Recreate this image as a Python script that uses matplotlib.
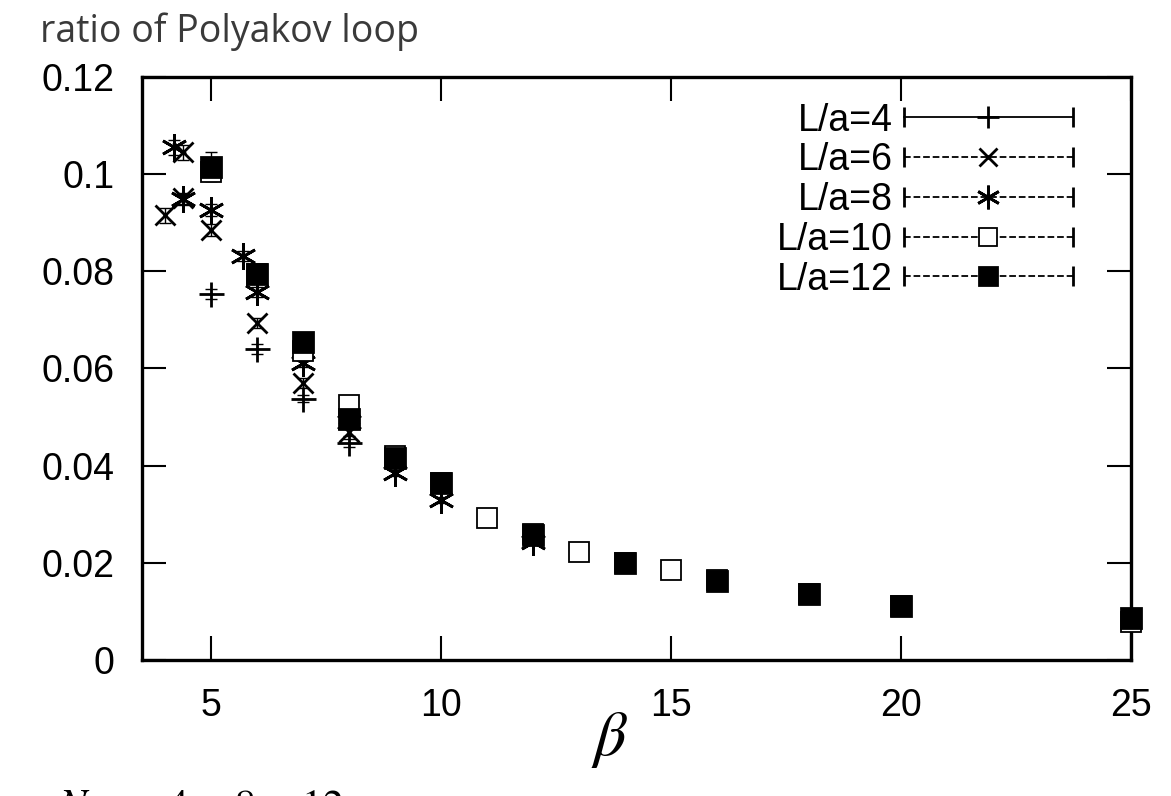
import matplotlib
matplotlib.use('Agg')
import matplotlib.pyplot as plt
from matplotlib.lines import Line2D
from matplotlib.legend_handler import HandlerBase
from matplotlib.ticker import FuncFormatter

# ---------------- data ----------------
beta_4 = [5, 6, 7, 8]
ratio_4 = [0.0753, 0.0640, 0.0538, 0.0447]
err_4 = [0.0010, 0.0010, 0.0008, 0.0008]

beta_6 = [4.0, 4.4, 4.4, 5, 6, 7, 8]
ratio_6 = [0.0915, 0.1045, 0.0950, 0.0885, 0.0693, 0.0570, 0.0470]
err_6 = [0.0015, 0.0015, 0.0012, 0.0012, 0.0010, 0.0010, 0.0008]

beta_8 = [4.2, 4.4, 5, 5.7, 6, 7, 8, 9, 10, 12]
ratio_8 = [0.1055, 0.0948, 0.0926, 0.0832, 0.0757, 0.0612, 0.0490, 0.0385, 0.0330, 0.0242]
err_8 = [0.0015, 0.0012, 0.0012, 0.0010, 0.0010, 0.0008, 0.0008, 0.0006, 0.0006, 0.0005]

beta_10 = [5, 6, 7, 8, 9, 10, 11, 12, 13, 14, 15, 16, 18, 20, 25]
ratio_10 = [0.1005, 0.0795, 0.0635, 0.0525, 0.0420, 0.0365, 0.0292, 0.0260, 0.0222,
            0.0200, 0.0185, 0.0165, 0.0135, 0.0112, 0.0078]
err_10 = [0.0020, 0.0012, 0.0010, 0.0008, 0.0008, 0.0006, 0.0006, 0.0005, 0.0005,
          0.0005, 0.0004, 0.0004, 0.0004, 0.0003, 0.0003]

beta_12 = [5, 6, 7, 8, 9, 10, 12, 14, 16, 18, 20, 25]
ratio_12 = [0.1015, 0.0795, 0.0655, 0.0495, 0.0415, 0.0365, 0.0258, 0.0200, 0.0163,
            0.0135, 0.0112, 0.0087]
err_12 = [0.0030, 0.0012, 0.0010, 0.0008, 0.0008, 0.0006, 0.0005, 0.0005, 0.0004,
          0.0004, 0.0003, 0.0003]

labels = ['L/a=4', 'L/a=6', 'L/a=8', 'L/a=10', 'L/a=12']
yticks = [0, 0.02, 0.04, 0.06, 0.08, 0.1, 0.12]
xticks = [5, 10, 15, 20, 25]

# ---------------- style ----------------
plt.rcParams['font.family'] = ['Liberation Sans', 'DejaVu Sans']
plt.rcParams['mathtext.fontset'] = 'stix'

series = [
    (beta_4, ratio_4, err_4, '+', 'none', '-', 18),
    (beta_6, ratio_6, err_6, 'x', 'none', (0, (4, 2.5)), 15),
    (beta_8, ratio_8, err_8, (6, 2, 0), 'none', (0, (2.5, 3)), 19),
    (beta_10, ratio_10, err_10, 's', 'white', (0, (1.5, 1.5, 4, 1.5)), 15),
    (beta_12, ratio_12, err_12, 's', 'black', (0, (5, 2.5, 1.5, 2.5)), 15),
]


class GnuKey(HandlerBase):
    # gnuplot-like key sample: line with end ticks and a point in the middle
    def create_artists(self, legend, orig, xdescent, ydescent, width, height, fontsize, trans):
        y = height / 2 - ydescent
        x0, x1 = -xdescent, width - xdescent
        ln = Line2D([x0, x1], [y, y], ls=orig.get_linestyle(), color='k', lw=1.3)
        ends = Line2D([x0, x1], [y, y], ls='none', marker='|', ms=15, mew=2.0, color='k')
        mid = Line2D([(x0 + x1) / 2], [y], ls='none', marker=orig.get_marker(),
                     ms=orig.get_markersize(), mfc=orig.get_markerfacecolor(),
                     mec='k', mew=orig.get_markeredgewidth())
        for a in (ln, ends, mid):
            a.set_transform(trans)
        return [ln, ends, mid]


fig = plt.figure(figsize=(11.71, 7.96), dpi=100)
ax = fig.add_axes([0.1213, 0.1709, 0.8446, 0.7324])

handles = []
for (b, r, e, mk, fc, ls, ms), lab in zip(series, labels):
    ax.errorbar(b, r, yerr=e, fmt='none', ecolor='k', elinewidth=1.0, capsize=4,
                capthick=1.0, clip_on=False, zorder=2)
    ax.plot(b, r, ls='none', marker=mk, ms=ms, mfc=fc, mec='k',
            mew=1.3 if fc == 'white' else 2.0, clip_on=False, zorder=3)
    handles.append(Line2D([], [], ls=ls, marker=mk, ms=ms * 0.9, mfc=fc, mec='k',
                          mew=1.3 if fc == 'white' else 2.0, label=lab))

ax.set_xlim(3.5, 25)
ax.set_ylim(0, 0.12)
ax.set_xticks(xticks)
ax.set_yticks(yticks)
ax.yaxis.set_major_formatter(FuncFormatter(lambda v, p: '%g' % v))
ax.tick_params(direction='in', length=17, width=1.5, labelsize=27, pad=20,
               top=True, right=True, colors='k')
for s in ax.spines.values():
    s.set_linewidth(2.4)

ax.legend(handles=handles, handler_map={Line2D: GnuKey()}, loc='upper right',
          bbox_to_anchor=(0.941, 0.956), frameon=False, markerfirst=False,
          fontsize=27, handlelength=4.5, handletextpad=0.3, labelspacing=0.1,
          borderpad=0, borderaxespad=0)

fig.text(40 / 1171, 1 - 42 / 796, 'ratio of Polyakov loop', fontsize=27,
         family=['Open Sans', 'DejaVu Sans'], color='#3a3a3a', va='baseline')
fig.text(610 / 1171, 1 - 740 / 796, r'$\beta$', fontsize=46, ha='center', va='center')
fig.text(58 / 1171, 1 - 787 / 796, r'$N\ \ =\ \ 4\ ,\ \ 8\ ,\ \ 12$', fontsize=30,
         va='top', ha='left')

fig.savefig('out.png', dpi=100)
